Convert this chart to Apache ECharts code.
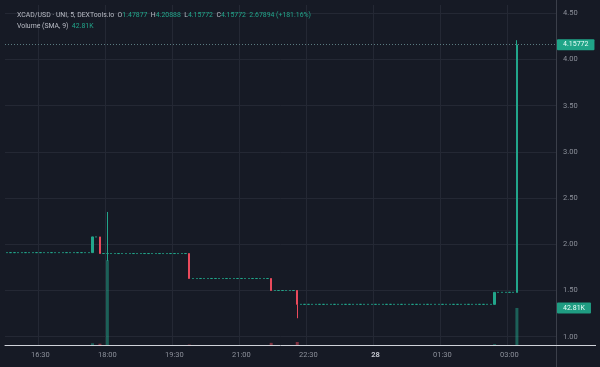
<!DOCTYPE html>
<html><head><meta charset="utf-8">
<script src="https://cdn.jsdelivr.net/npm/echarts@6/dist/echarts.min.js"></script>
<style>html,body{margin:0;padding:0;background:#161a25;}#c{width:600px;height:367px;}</style>
</head><body><div id="c"></div>
<script>
// 5-minute slots (one row per hour)
const categories = [
 '15:45','15:50','15:55',
 '16:00','16:05','16:10','16:15','16:20','16:25','16:30','16:35','16:40','16:45','16:50','16:55',
 '17:00','17:05','17:10','17:15','17:20','17:25','17:30','17:35','17:40','17:45','17:50','17:55',
 '18:00','18:05','18:10','18:15','18:20','18:25','18:30','18:35','18:40','18:45','18:50','18:55',
 '19:00','19:05','19:10','19:15','19:20','19:25','19:30','19:35','19:40','19:45','19:50','19:55',
 '20:00','20:05','20:10','20:15','20:20','20:25','20:30','20:35','20:40','20:45','20:50','20:55',
 '21:00','21:05','21:10','21:15','21:20','21:25','21:30','21:35','21:40','21:45','21:50','21:55',
 '22:00','22:05','22:10','22:15','22:20','22:25','22:30','22:35','22:40','22:45','22:50','22:55',
 '23:00','23:05','23:10','23:15','23:20','23:25','23:30','23:35','23:40','23:45','23:50','23:55',
 '00:00','00:05','00:10','00:15','00:20','00:25','00:30','00:35','00:40','00:45','00:50','00:55',
 '01:00','01:05','01:10','01:15','01:20','01:25','01:30','01:35','01:40','01:45','01:50','01:55',
 '02:00','02:05','02:10','02:15','02:20','02:25','02:30','02:35','02:40','02:45','02:50','02:55',
 '03:00','03:05','03:10','03:15','03:20','03:25','03:30','03:35','03:40','03:45','03:50','03:55',
 '04:00'
];
const opens = [
 1.91,1.91,1.91,
 1.91,1.91,1.91,1.91,1.91,1.91,1.91,1.91,1.91,1.91,1.91,1.91,
 1.91,1.91,1.91,1.91,1.91,1.91,1.91,1.91,1.91,2.08,2.08,1.90,
 1.90,1.90,1.90,1.90,1.90,1.90,1.90,1.90,1.90,1.90,1.90,1.90,
 1.90,1.90,1.90,1.90,1.90,1.90,1.90,1.90,1.90,1.90,1.90,1.63,
 1.63,1.63,1.63,1.63,1.63,1.63,1.63,1.63,1.63,1.63,1.63,1.63,
 1.63,1.63,1.63,1.63,1.63,1.63,1.63,1.63,1.63,1.50,1.50,1.50,
 1.50,1.50,1.50,1.50,1.35,1.35,1.35,1.35,1.35,1.35,1.35,1.35,
 1.35,1.35,1.35,1.35,1.35,1.35,1.35,1.35,1.35,1.35,1.35,1.35,
 1.35,1.35,1.35,1.35,1.35,1.35,1.35,1.35,1.35,1.35,1.35,1.35,
 1.35,1.35,1.35,1.35,1.35,1.35,1.35,1.35,1.35,1.35,1.35,1.35,
 1.35,1.35,1.35,1.35,1.35,1.35,1.35,1.35,1.35,1.48,1.48,1.48,
 1.48,1.48,1.47877
];
const closes = [
 1.91,1.91,1.91,
 1.91,1.91,1.91,1.91,1.91,1.91,1.91,1.91,1.91,1.91,1.91,1.91,
 1.91,1.91,1.91,1.91,1.91,1.91,1.91,1.91,2.08,2.08,1.90,1.90,
 1.90,1.90,1.90,1.90,1.90,1.90,1.90,1.90,1.90,1.90,1.90,1.90,
 1.90,1.90,1.90,1.90,1.90,1.90,1.90,1.90,1.90,1.90,1.63,1.63,
 1.63,1.63,1.63,1.63,1.63,1.63,1.63,1.63,1.63,1.63,1.63,1.63,
 1.63,1.63,1.63,1.63,1.63,1.63,1.63,1.63,1.50,1.50,1.50,1.50,
 1.50,1.50,1.50,1.35,1.35,1.35,1.35,1.35,1.35,1.35,1.35,1.35,
 1.35,1.35,1.35,1.35,1.35,1.35,1.35,1.35,1.35,1.35,1.35,1.35,
 1.35,1.35,1.35,1.35,1.35,1.35,1.35,1.35,1.35,1.35,1.35,1.35,
 1.35,1.35,1.35,1.35,1.35,1.35,1.35,1.35,1.35,1.35,1.35,1.35,
 1.35,1.35,1.35,1.35,1.35,1.35,1.35,1.35,1.48,1.48,1.48,1.48,
 1.48,1.48,4.15772
];
const lows = [
 1.91,1.91,1.91,
 1.91,1.91,1.91,1.91,1.91,1.91,1.91,1.91,1.91,1.91,1.91,1.91,
 1.91,1.91,1.91,1.91,1.91,1.91,1.91,1.91,1.91,2.08,1.90,1.90,
 1.82,1.90,1.90,1.90,1.90,1.90,1.90,1.90,1.90,1.90,1.90,1.90,
 1.90,1.90,1.90,1.90,1.90,1.90,1.90,1.90,1.90,1.90,1.63,1.63,
 1.63,1.63,1.63,1.63,1.63,1.63,1.63,1.63,1.63,1.63,1.63,1.63,
 1.63,1.63,1.63,1.63,1.63,1.63,1.63,1.63,1.50,1.50,1.50,1.50,
 1.50,1.50,1.50,1.20,1.35,1.35,1.35,1.35,1.35,1.35,1.35,1.35,
 1.35,1.35,1.35,1.35,1.35,1.35,1.35,1.35,1.35,1.35,1.35,1.35,
 1.35,1.35,1.35,1.35,1.35,1.35,1.35,1.35,1.35,1.35,1.35,1.35,
 1.35,1.35,1.35,1.35,1.35,1.35,1.35,1.35,1.35,1.35,1.35,1.35,
 1.35,1.35,1.35,1.35,1.35,1.35,1.35,1.35,1.35,1.48,1.48,1.48,
 1.48,1.48,1.47877
];
const highs = [
 1.91,1.91,1.91,
 1.91,1.91,1.91,1.91,1.91,1.91,1.91,1.91,1.91,1.91,1.91,1.91,
 1.91,1.91,1.91,1.91,1.91,1.91,1.91,1.91,2.08,2.08,2.08,1.90,
 2.35,1.90,1.90,1.90,1.90,1.90,1.90,1.90,1.90,1.90,1.90,1.90,
 1.90,1.90,1.90,1.90,1.90,1.90,1.90,1.90,1.90,1.90,1.90,1.63,
 1.63,1.63,1.63,1.63,1.63,1.63,1.63,1.63,1.63,1.63,1.63,1.63,
 1.63,1.63,1.63,1.63,1.63,1.63,1.63,1.63,1.63,1.50,1.50,1.50,
 1.50,1.50,1.50,1.50,1.35,1.35,1.35,1.35,1.35,1.35,1.35,1.35,
 1.35,1.35,1.35,1.35,1.35,1.35,1.35,1.35,1.35,1.35,1.35,1.35,
 1.35,1.35,1.35,1.35,1.35,1.35,1.35,1.35,1.35,1.35,1.35,1.35,
 1.35,1.35,1.35,1.35,1.35,1.35,1.35,1.35,1.35,1.35,1.35,1.35,
 1.35,1.35,1.35,1.35,1.35,1.35,1.35,1.35,1.48,1.48,1.48,1.48,
 1.48,1.48,4.20888
];
const volumes = [
 0,0,0,
 0,0,0,0,0,0,0,0,0,0,0,0,
 0,0,0,0,0,0,0,0,2000,0,1500,0,
 98000,0,0,0,0,0,0,0,0,0,0,0,
 0,0,0,0,0,0,0,0,0,0,500,0,
 0,0,0,0,0,0,0,0,0,0,0,0,
 0,0,0,0,0,0,0,0,2500,0,0,0,
 0,0,0,3500,0,0,0,0,0,0,0,0,
 0,0,0,0,0,0,0,0,0,0,0,0,
 0,0,0,0,0,0,0,0,0,0,0,0,
 0,0,0,0,0,0,0,0,0,0,0,0,
 0,0,0,0,0,0,0,0,1000,0,0,0,
 0,0,42810
];
const tickSlots = ['16:30','18:00','19:30','21:00','22:30','00:00','01:30','03:00'];
const tickTexts = ['16:30','18:00','19:30','21:00','22:30','28','01:30','03:00'];
const priceTicks = [1.00,1.50,2.00,2.50,3.00,3.50,4.00,4.50];
const lastPrice = 4.15772;
const lastVolume = 42810;
const header = {pair:'XCAD/USD · UNI, 5, DEXTools.io', o:'1.47877', h:'4.20888', l:'4.15772', c:'4.15772', chg:'2.67894 (+181.16%)', vol:'Volume (SMA, 9)', volv:'42.81K'};

const GREEN = '#22a68b', RED = '#ea4a5c';
const candleData = opens.map((o,i)=>[o, closes[i], lows[i], highs[i]]);
const volData = volumes.map((v,i)=>({value: v, itemStyle:{color: closes[i] >= opens[i] ? 'rgba(34,166,139,0.5)' : 'rgba(234,74,92,0.5)'}}));
const isTick = (idx, val) => tickSlots.indexOf(val) >= 0;

const chart = echarts.init(document.getElementById('c'), null, {renderer:'canvas'});
chart.setOption({
  animation:false,
  backgroundColor:'#161a25',
  textStyle:{fontFamily:'Roboto'},
  title:{
    left:12, top:5,
    text:`{l|${header.pair}  O}{v|${header.o}}{l|  H}{v|${header.h}}{l|  L}{v|${header.l}}{l|  C}{v|${header.c}}{v|  ${header.chg}}\n{l|${header.vol}  }{v|${header.volv}}`,
    textStyle:{fontSize:6.9, fontFamily:'Roboto', fontWeight:'normal', lineHeight:11,
      rich:{l:{color:'#b9bcc5',fontSize:6.9,lineHeight:11,fontFamily:'Roboto'}, v:{color:'#22a68b',fontSize:6.9,lineHeight:11,fontFamily:'Roboto'}}}
  },
  grid:[
    {left:5, right:44, top:13.3, bottom:30.3},
    {left:5, right:44, top:5, bottom:22}
  ],
  xAxis:[
    {type:'category', gridIndex:0, data:categories, boundaryGap:true, show:false},
    {type:'category', gridIndex:1, data:categories, boundaryGap:true,
      axisLine:{lineStyle:{color:'#cfd2d9', width:1}},
      axisTick:{show:false},
      axisLabel:{interval:isTick, margin:6, fontSize:7.5, color:'#8d919b', fontFamily:'Roboto',
        formatter:(v)=>{const t = tickTexts[tickSlots.indexOf(v)]; return t === '28' ? '{b|28}' : t;},
        rich:{b:{fontWeight:'bold', color:'#c3c6ce', fontSize:7.5}}},
      splitLine:{show:true, interval:isTick, lineStyle:{color:'#242834', width:1}}
    }
  ],
  yAxis:[
    {type:'value', gridIndex:0, position:'right', min:priceTicks[0], max:priceTicks[priceTicks.length-1], interval:0.5,
      axisLine:{show:false}, axisTick:{show:false},
      axisLabel:{margin:7, fontSize:7.5, color:'#8d919b', fontFamily:'Roboto', formatter:(v)=>v.toFixed(2)},
      splitLine:{lineStyle:{color:'#242834', width:1}}},
    {type:'value', gridIndex:1, min:0, max:393000, show:false, splitLine:{show:false}}
  ],
  series:[
    {type:'bar', xAxisIndex:1, yAxisIndex:1, data:volData, barWidth:3, silent:true,
      markLine:{symbol:'none', silent:true, data:[{yAxis:lastVolume}], lineStyle:{color:'rgba(0,0,0,0)', width:0},
        label:{show:true, position:'end', distance:1, formatter:header.volv, color:'#e9fff9', backgroundColor:'#1f9c82',
          fontSize:7, padding:[2,6,2,6], fontFamily:'Roboto', borderRadius:1}}},
    {type:'candlestick', xAxisIndex:0, yAxisIndex:0, data:candleData, barWidth:1.9,
      itemStyle:{color:GREEN, color0:RED, borderColor:GREEN, borderColor0:RED, borderWidth:1},
      markLine:{symbol:'none', silent:true, data:[{yAxis:lastPrice}],
        lineStyle:{type:[1,2], color:'#5b7b80', width:1},
        label:{position:'end', distance:1, formatter:lastPrice.toFixed(5), color:'#e9fff9', backgroundColor:'#1fa588',
          fontSize:7, padding:[2,6,2,6], fontFamily:'Roboto', borderRadius:1}}}
  ],
  graphic:[
    {type:'line', shape:{x1:556.5, y1:0, x2:556.5, y2:367}, style:{stroke:'#3b3f4a', lineWidth:1}, z:1},
    {type:'line', shape:{x1:556, y1:345.5, x2:596, y2:345.5}, style:{stroke:'#cfd2d9', lineWidth:1}, z:1}
  ]
});
</script>
</body></html>
